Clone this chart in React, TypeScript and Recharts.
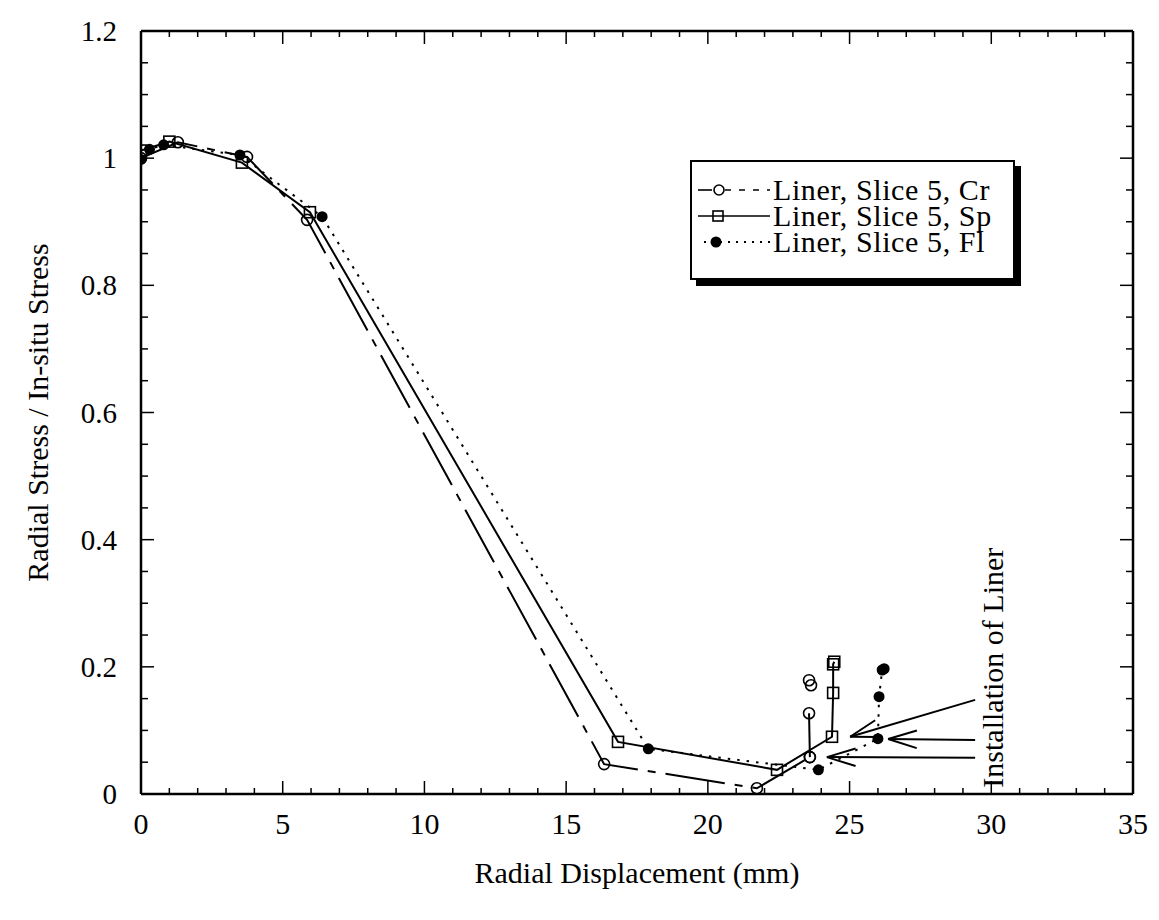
import React from 'react';
import { ScatterChart, Scatter, XAxis, YAxis, ReferenceLine, Legend, Label } from 'recharts';

const FONT = '"Liberation Serif", "Times New Roman", serif';
const textStyle = { fontFamily: FONT };

// ---- axis ticks ----
const xTicks = [0,1,2,3,4,5,6,7,8,9,10,11,12,13,14,15,16,17,18,19,20,21,22,23,24,25,26,27,28,29,30,31,32,33,34,35];
const xTickLabels = [0,5,10,15,20,25,30,35];
const yTicks = [0,0.05,0.1,0.15,0.2,0.25,0.3,0.35,0.4,0.45,0.5,0.55,0.6,0.65,0.7,0.75,0.8,0.85,0.9,0.95,1,1.05,1.1,1.15,1.2];
const yTickLabels = [0,0.2,0.4,0.6,0.8,1,1.2];

const xTitle = 'Radial Displacement (mm)';
const yTitle = 'Radial Stress / In-situ Stress';

// ---- series: Liner, Slice 5, Cr (open circles, dashed) ----
const crMain = [
  { x: 0, y: 1.0 },
  { x: 1.3, y: 1.025 },
  { x: 3.74, y: 1.002 },
  { x: 5.86, y: 0.903 },
  { x: 16.34, y: 0.047 },
  { x: 21.73, y: 0.009 },
  { x: 23.6, y: 0.058 },
];
const crRise = [
  { x: 23.6, y: 0.058 },
  { x: 23.57, y: 0.127 },
];
const crTop = [
  { x: 23.64, y: 0.171 },
  { x: 23.57, y: 0.179 },
];

// ---- series: Liner, Slice 5, Sp (open squares, solid) ----
const spData = [
  { x: 0, y: 1.012 },
  { x: 1.0, y: 1.026 },
  { x: 3.56, y: 0.993 },
  { x: 5.96, y: 0.915 },
  { x: 16.83, y: 0.082 },
  { x: 22.44, y: 0.038 },
  { x: 24.38, y: 0.09 },
  { x: 24.42, y: 0.159 },
  { x: 24.42, y: 0.204 },
  { x: 24.46, y: 0.208 },
];

// ---- series: Liner, Slice 5, Fl (filled circles, dotted) ----
const flData = [
  { x: 0, y: 0.998 },
  { x: 0.3, y: 1.014 },
  { x: 0.8, y: 1.021 },
  { x: 3.49, y: 1.005 },
  { x: 6.39, y: 0.908 },
  { x: 17.9, y: 0.071 },
  { x: 23.9, y: 0.038 },
  { x: 26.0, y: 0.087 },
  { x: 26.04, y: 0.153 },
  { x: 26.15, y: 0.195 },
  { x: 26.22, y: 0.197 },
];

// ---- annotation ----
const annotationText = 'Installation of Liner';
const annotationPos = [{ x: 30.06, y: 0.01 }];
const arrows = [
  { tail: { x: 29.43, y: 0.148 }, tip: { x: 25.02, y: 0.09 } },
  { tail: { x: 29.43, y: 0.085 }, tip: { x: 26.36, y: 0.0865 } },
  { tail: { x: 29.43, y: 0.057 }, tip: { x: 24.2, y: 0.058 } },
];

const legendLabels = ['Liner, Slice 5, Cr', 'Liner, Slice 5, Sp', 'Liner, Slice 5, Fl'];

// approximate px per data unit, only used to shape arrowheads
const SX = 28.34;
const SY = 635.8;
function arrowSegments(a: any) {
  const dxp = (a.tail.x - a.tip.x) * SX;
  const dyp = (a.tail.y - a.tip.y) * SY;
  const len = Math.hypot(dxp, dyp);
  const ux = dxp / len;
  const uy = dyp / len;
  const ang = (17 * Math.PI) / 180;
  const L = 30;
  const arms = [ang, -ang].map((t) => {
    const rx = ux * Math.cos(t) - uy * Math.sin(t);
    const ry = ux * Math.sin(t) + uy * Math.cos(t);
    return { x: a.tip.x + (rx * L) / SX, y: a.tip.y + (ry * L) / SY };
  });
  return [
    [a.tail, a.tip],
    [arms[0], a.tip],
    [arms[1], a.tip],
  ];
}

const isMajorX = (v: number) => xTickLabels.some((t) => Math.abs(t - v) < 1e-9);
const isMajorY = (v: number) => yTickLabels.some((t) => Math.abs(t - v) < 1e-9);

function BottomTick(props: any) {
  const { x, y, payload } = props;
  const major = isMajorX(payload.value);
  return (
    <g>
      <line x1={x} x2={x} y1={y} y2={y - (major ? 13 : 6)} stroke="#000" strokeWidth={1.5} />
      {major ? (
        <text x={x} y={y + 29} textAnchor="middle" dominantBaseline="central" style={textStyle} fontFamily={FONT} fontSize={30} fill="#000">
          {payload.value}
        </text>
      ) : null}
    </g>
  );
}
function TopTick(props: any) {
  const { x, y, payload } = props;
  const major = isMajorX(payload.value);
  return <line x1={x} x2={x} y1={y} y2={y + (major ? 13 : 6)} stroke="#000" strokeWidth={1.5} />;
}
function LeftTick(props: any) {
  const { x, y, payload } = props;
  const major = isMajorY(payload.value);
  return (
    <g>
      <line x1={x} x2={x + (major ? 13 : 7)} y1={y} y2={y} stroke="#000" strokeWidth={1.5} />
      {major ? (
        <text x={x - 24} y={y} textAnchor="end" dominantBaseline="central" style={textStyle} fontFamily={FONT} fontSize={29} fill="#000">
          {String(payload.value)}
        </text>
      ) : null}
    </g>
  );
}
function RightTick(props: any) {
  const { x, y, payload } = props;
  const major = isMajorY(payload.value);
  return <line x1={x} x2={x - (major ? 13 : 7)} y1={y} y2={y} stroke="#000" strokeWidth={1.5} />;
}

const OpenCircle = (p: any) => <circle cx={p.cx} cy={p.cy} r={5.5} fill="none" stroke="#000" strokeWidth={1.6} />;
const OpenSquare = (p: any) => (
  <rect x={p.cx - 5.5} y={p.cy - 5.5} width={11} height={11} fill="none" stroke="#000" strokeWidth={1.6} />
);
const FilledCircle = (p: any) => <circle cx={p.cx} cy={p.cy} r={5.5} fill="#000" />;
const AnnotationShape = (p: any) => (
  <text
    x={p.cx}
    y={p.cy}
    transform={`rotate(-90 ${p.cx} ${p.cy})`}
    textAnchor="start"
    dominantBaseline="central"
    style={textStyle}
    fontFamily={FONT}
    fontSize={30}
    fill="#000"
  >
    {annotationText}
  </text>
);

const XTitle = (props: any) => {
  const vb = props.viewBox;
  return (
    <text
      x={vb.x + vb.width / 2}
      y={vb.y + 78}
      textAnchor="middle"
      dominantBaseline="central"
      style={textStyle}
      fontFamily={FONT}
      fontSize={30}
      fill="#000"
    >
      {xTitle}
    </text>
  );
};
const YTitle = (props: any) => {
  const vb = props.viewBox;
  const cx = vb.x + vb.width - 104;
  const cy = vb.y + vb.height / 2;
  return (
    <text
      x={cx}
      y={cy}
      transform={`rotate(-90 ${cx} ${cy})`}
      textAnchor="middle"
      dominantBaseline="central"
      style={textStyle}
      fontFamily={FONT}
      fontSize={30}
      fill="#000"
    >
      {yTitle}
    </text>
  );
};

function LegendSample({ kind }: { kind: number }) {
  return (
    <svg width={72} height={26} style={{ display: 'block', flex: 'none' }}>
      {kind === 0 ? (
        <g>
          <line x1={0} x2={14} y1={13} y2={13} stroke="#000" strokeWidth={1.6} />
          <line x1={27} x2={72} y1={13} y2={13} stroke="#000" strokeWidth={1.6} strokeDasharray="6 8" />
          <circle cx={21} cy={13} r={5} fill="none" stroke="#000" strokeWidth={1.6} />
        </g>
      ) : kind === 1 ? (
        <g>
          <line x1={0} x2={72} y1={13} y2={13} stroke="#000" strokeWidth={1.6} />
          <rect x={15} y={8} width={10} height={10} fill="none" stroke="#000" strokeWidth={1.6} />
        </g>
      ) : (
        <g>
          <line x1={6} x2={72} y1={13} y2={13} stroke="#000" strokeWidth={1.8} strokeDasharray="2 6" />
          <circle cx={18} cy={13} r={5.5} fill="#000" />
        </g>
      )}
    </svg>
  );
}

const renderLegend = () => (
  <div
    style={{
      width: 325,
      height: 120,
      boxSizing: 'border-box',
      border: '2px solid #000',
      boxShadow: '6px 6px 0 #000',
      background: '#fff',
      paddingTop: 15,
      fontFamily: FONT,
      fontSize: 30,
      color: '#000',
    }}
  >
    {legendLabels.map((label, i) => (
      <div key={label} style={{ display: 'flex', alignItems: 'center', height: 26, paddingLeft: 6 }}>
        <LegendSample kind={i} />
        <span style={{ marginLeft: 3, lineHeight: '26px', letterSpacing: 0.6, whiteSpace: 'nowrap', fontFamily: FONT }}>{label}</span>
      </div>
    ))}
  </div>
);

const axisLineStyle = { stroke: '#000', strokeWidth: 2.5 };

export default function App() {
  return (
    <div style={{ position: 'absolute', left: 0, top: 0, width: 1159, height: 920, background: '#fff', fontFamily: FONT }}>
      <ScatterChart width={1159} height={920} margin={{ top: 30, right: 25, bottom: 125, left: 140 }} style={{ fontFamily: FONT }}>
        <XAxis
          type="number"
          dataKey="x"
          domain={[0, 35]}
          ticks={xTicks}
          interval={0}
          height={1}
          tickSize={0}
          tickMargin={0}
          tick={BottomTick}
          tickLine={false}
          axisLine={axisLineStyle}
          allowDataOverflow
        >
          <Label content={XTitle} />
        </XAxis>
        <XAxis
          xAxisId="top"
          orientation="top"
          type="number"
          dataKey="x"
          domain={[0, 35]}
          ticks={xTicks}
          interval={0}
          height={1}
          tickSize={0}
          tickMargin={0}
          tick={TopTick}
          tickLine={false}
          axisLine={axisLineStyle}
          allowDataOverflow
        />
        <YAxis
          type="number"
          dataKey="y"
          domain={[0, 1.2]}
          ticks={yTicks}
          interval={0}
          width={1}
          tickSize={0}
          tickMargin={0}
          tick={LeftTick}
          tickLine={false}
          axisLine={axisLineStyle}
          allowDataOverflow
        >
          <Label content={YTitle} />
        </YAxis>
        <YAxis
          yAxisId="right"
          orientation="right"
          type="number"
          dataKey="y"
          domain={[0, 1.2]}
          ticks={yTicks}
          interval={0}
          width={1}
          tickSize={0}
          tickMargin={0}
          tick={RightTick}
          tickLine={false}
          axisLine={axisLineStyle}
          allowDataOverflow
        />

        <Scatter
          data={flData}
          fill="#000"
          line={{ stroke: '#000', strokeWidth: 2, strokeDasharray: '2.5 7' }}
          lineType="joint"
          shape={FilledCircle}
          isAnimationActive={false}
        />
        <Scatter
          data={spData}
          fill="#000"
          line={{ stroke: '#000', strokeWidth: 2 }}
          lineType="joint"
          shape={OpenSquare}
          isAnimationActive={false}
        />
        <Scatter
          data={crMain}
          fill="#000"
          line={{ stroke: '#000', strokeWidth: 2, strokeDasharray: '60 10 8 10' }}
          lineType="joint"
          shape={OpenCircle}
          isAnimationActive={false}
        />
        <Scatter
          data={crRise}
          fill="#000"
          line={{ stroke: '#000', strokeWidth: 2 }}
          lineType="joint"
          shape={OpenCircle}
          isAnimationActive={false}
        />
        <Scatter data={crTop} fill="#000" shape={OpenCircle} isAnimationActive={false} />

        {arrows.flatMap((a, i) =>
          arrowSegments(a).map((seg, j) => (
            <ReferenceLine
              key={`arrow-${i}-${j}`}
              segment={seg}
              stroke="#000"
              strokeWidth={2}
              ifOverflow="visible"
            />
          ))
        )}
        <Scatter data={annotationPos} shape={AnnotationShape} isAnimationActive={false} />

        <Legend
          content={renderLegend}
          layout="vertical"
          align="center"
          verticalAlign="middle"
          wrapperStyle={{ left: 690, top: 160, width: 335, height: 130, right: 'auto', bottom: 'auto' }}
        />
      </ScatterChart>
    </div>
  );
}
